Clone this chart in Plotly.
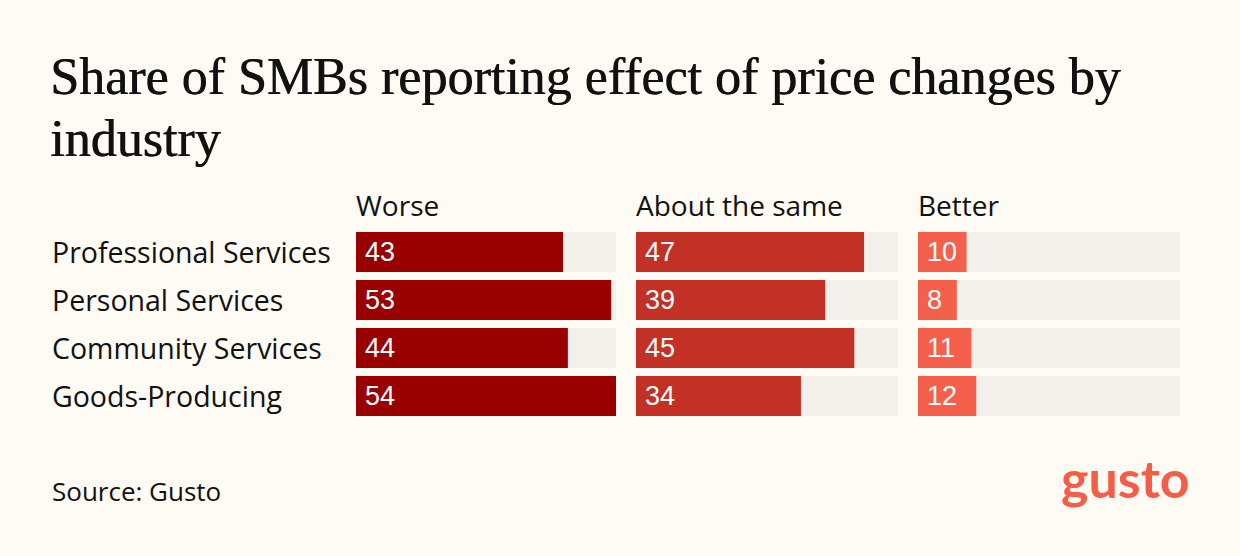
import plotly.graph_objects as go

# data
industries = ["Professional Services", "Personal Services", "Community Services", "Goods-Producing"]
groups = ["Worse", "About the same", "Better"]
worse = [43, 53, 44, 54]
same = [47, 39, 45, 34]
better = [10, 8, 11, 12]
title_lines = ["Share of SMBs reporting effect of price changes by", "industry"]

W, H = 1240, 556
bg = "#FEFAF4"
track = "#F3EFEA"
colors = ["#990000", "#C33025", "#F4604B"]
sans = "'Open Sans', 'Noto Sans', sans-serif"

values = [worse, same, better]
top = max(max(v) for v in values)

# panel positions in pixels
panels = [(356, 616), (636, 898), (918, 1180)]
y_top, y_bot = 228, 420

fig = go.Figure()
for i, (vals, col) in enumerate(zip(values, colors)):
    ax = "" if i == 0 else str(i + 1)
    fig.add_trace(go.Bar(x=[top] * len(industries), y=industries, orientation="h",
                         marker=dict(color=track, line_width=0), width=40 / 48,
                         xaxis="x" + ax, yaxis="y" + ax, hoverinfo="skip", showlegend=False))
    fig.add_trace(go.Bar(x=vals, y=industries, orientation="h",
                         marker=dict(color=col, line_width=0), width=40 / 48,
                         xaxis="x" + ax, yaxis="y" + ax, showlegend=False))
    x0, x1 = panels[i]
    fig.update_layout(**{
        "xaxis" + ax: dict(domain=[x0 / W, x1 / W], range=[0, top], visible=False,
                           fixedrange=True),
        "yaxis" + ax: dict(domain=[1 - y_bot / H, 1 - y_top / H], range=[3.5, -0.5],
                           visible=False, anchor="x" + ax, fixedrange=True),
    })
    fig.add_annotation(x=(x0 - 2) / W, y=1 - 205 / H, xref="paper", yref="paper",
                       text=groups[i], showarrow=False, xanchor="left", yanchor="middle",
                       font=dict(family=sans, size=28, color="#111"))
    for ind, v in zip(industries, vals):
        fig.add_annotation(x=0, y=ind, xref="x" + ax, yref="y" + ax, text=str(v),
                           showarrow=False, xanchor="left", yanchor="middle", xshift=7,
                           font=dict(family="'Liberation Sans', Arial, sans-serif",
                                     size=27, color="white"))

for ind in industries:
    fig.add_annotation(x=50 / W, y=ind, xref="paper", yref="y", text=ind,
                       showarrow=False, xanchor="left", yanchor="middle",
                       font=dict(family=sans, size=28.5, color="#111"))

# title, one annotation per line so the line gap can follow the picture
for k, line in enumerate(title_lines):
    fig.add_annotation(x=48 / W, y=1 - (46 + 62 * k) / H, xref="paper", yref="paper",
                       text=line, showarrow=False, xanchor="left", yanchor="top",
                       font=dict(family="'Liberation Serif', 'DejaVu Serif', serif",
                                 size=52, color="#111", shadow="0.7px 0 0 #111"))

fig.add_annotation(x=50 / W, y=1 - 491 / H, xref="paper", yref="paper",
                   text="Source: Gusto", showarrow=False, xanchor="left", yanchor="middle",
                   font=dict(family=sans, size=26, color="#111"))
fig.add_annotation(x=1192 / W, y=1 - 478 / H, xref="paper", yref="paper",
                   text="<b>gusto</b>", showarrow=False, xanchor="right", yanchor="middle",
                   font=dict(family="Lato, sans-serif", size=52, color="#F45D48"))

fig.update_layout(width=W, height=H, margin=dict(l=0, r=0, t=0, b=0),
                  barmode="overlay", paper_bgcolor=bg, plot_bgcolor=bg)

fig.write_html("out.html", config={"displayModeBar": False},
               post_script="document.body.style.margin='0';"
                           "document.body.style.background='#FEFAF4';")
